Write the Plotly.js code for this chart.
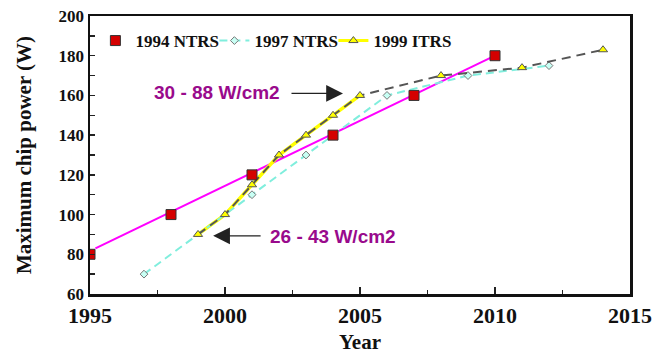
<!DOCTYPE html>
<html>
<head>
<meta charset="utf-8">
<script src="https://cdn.plot.ly/plotly-3.0.1.min.js"></script>
<style>html,body{margin:0;padding:0;background:#fff;}#chart{width:668px;height:358px;}</style>
</head>
<body>
<div id="chart"></div>
<script>
// 1994 NTRS
const ntrs94Years = [1995, 1998, 2001, 2004, 2007, 2010];
const ntrs94Power = [80, 100, 120, 140, 160, 180];
// trend line drawn through the 1994 NTRS projection
const trendYears = [1995.2, 2010];
const trendPower = [83, 180];
// 1997 NTRS
const ntrs97Years = [1997, 2001, 2003, 2006, 2009, 2012];
const ntrs97Power = [70, 110, 130, 160, 170, 175];
// 1999 ITRS
const itrs99Years = [1999, 2000, 2001, 2002, 2003, 2004, 2005, 2008, 2011, 2014];
const itrs99Power = [90, 100, 115, 130, 140, 150, 160, 170, 174, 183];
const itrs99SolidCount = 7; // yellow solid segment 1999-2005
// annotations
const noteTexts = ['30 - 88 W/cm2', '26 - 43 W/cm2'];
const noteTextX = [1999.72, 2004.0];
const noteTextY = [161.5, 88.8];
const arrowHeadX = [2004.37, 1999.56];
const arrowHeadY = [161, 89.3];
const arrowTailDx = [-53, 49];
const xTicks = [1995, 2000, 2005, 2010, 2015];
const yTicks = [60, 80, 100, 120, 140, 160, 180, 200];

const serif = 'Liberation Serif, Times New Roman, serif';
const sans = 'Liberation Sans, Arial, sans-serif';

const triMarker = {symbol: 'triangle-up', size: 8, color: '#ffff00', line: {color: '#555', width: 1}};
const traces = [
  {x: trendYears, y: trendPower, mode: 'lines', showlegend: false,
   line: {color: '#ff00ff', width: 2}},
  {x: itrs99Years.slice(0, itrs99SolidCount), y: itrs99Power.slice(0, itrs99SolidCount),
   mode: 'lines', showlegend: false, line: {color: '#ffff00', width: 3.5}},
  {x: ntrs97Years, y: ntrs97Power, mode: 'lines+markers', name: '1997 NTRS', legendrank: 2,
   line: {color: '#80eedd', width: 2, dash: '8px,5px'},
   marker: {symbol: 'diamond', size: 6, color: '#c8fff4', line: {color: '#777', width: 1}}},
  {x: itrs99Years, y: itrs99Power, mode: 'lines', showlegend: false,
   line: {color: '#555', width: 2, dash: '9px,6px'}},
  {x: ntrs94Years, y: ntrs94Power, mode: 'markers', name: '1994 NTRS', legendrank: 1,
   marker: {symbol: 'square', size: 10, color: '#d40000', line: {color: '#333', width: 1}}},
  {x: itrs99Years, y: itrs99Power, mode: 'markers', showlegend: false, marker: triMarker},
  {x: [null], y: [null], mode: 'lines+markers', name: '1999 ITRS', legendrank: 3,
   line: {color: '#ffff00', width: 3}, marker: triMarker}
];

const annotations = [];
for (let i = 0; i < noteTexts.length; i++) {
  annotations.push({x: noteTextX[i], y: noteTextY[i], xref: 'x', yref: 'y', text: noteTexts[i],
    showarrow: false, font: {family: sans, size: 19, weight: 'bold', color: '#990a8c'}});
  annotations.push({x: arrowHeadX[i], y: arrowHeadY[i], xref: 'x', yref: 'y', text: '',
    showarrow: true, ax: arrowTailDx[i], ay: 0, arrowhead: 2, arrowsize: 2.8, arrowwidth: 1.2, arrowcolor: '#222'});
}

const layout = {
  width: 668, height: 358,
  margin: {l: 90, r: 38, t: 16, b: 64},
  paper_bgcolor: '#fff', plot_bgcolor: '#fff',
  showlegend: true,
  legend: {orientation: 'h', x: 0.01, y: 0.91, xanchor: 'left', yanchor: 'middle',
    font: {family: serif, size: 17, weight: 'bold', color: '#111'}, bgcolor: 'rgba(0,0,0,0)',
    traceorder: 'normal', itemwidth: 30, entrywidth: 74, entrywidthmode: 'pixels'},
  xaxis: {range: [1995, 2015], tickvals: xTicks, ticks: 'inside', ticklen: 7, tickwidth: 1.5, tickcolor: '#222',
    minor: {dtick: 2.5, ticks: 'inside', ticklen: 4, tickwidth: 1.5, tickcolor: '#222', showgrid: false},
    showgrid: false, zeroline: false, showline: true, linecolor: '#111', linewidth: 2.5, mirror: true,
    tickfont: {family: serif, size: 22, weight: 'bold', color: '#111'}, tickformat: 'd',
    title: {text: 'Year', font: {family: serif, size: 21, weight: 'bold', color: '#111'}, standoff: 8}},
  yaxis: {range: [60, 200], tickvals: yTicks, ticks: 'inside', ticklen: 5, tickwidth: 1.5, tickcolor: '#222',
    minor: {dtick: 10, ticks: 'inside', ticklen: 5, tickwidth: 1.5, tickcolor: '#222', showgrid: false},
    showgrid: false, zeroline: false, showline: true, linecolor: '#111', linewidth: 2.5, mirror: true,
    tickfont: {family: serif, size: 17, weight: 'bold', color: '#111'},
    title: {text: 'Maximum chip power (W)', font: {family: serif, size: 21, weight: 'bold', color: '#111'}, standoff: 21}},
  annotations: annotations
};
Plotly.newPlot('chart', traces, layout, {staticPlot: true});
</script>
</body>
</html>
